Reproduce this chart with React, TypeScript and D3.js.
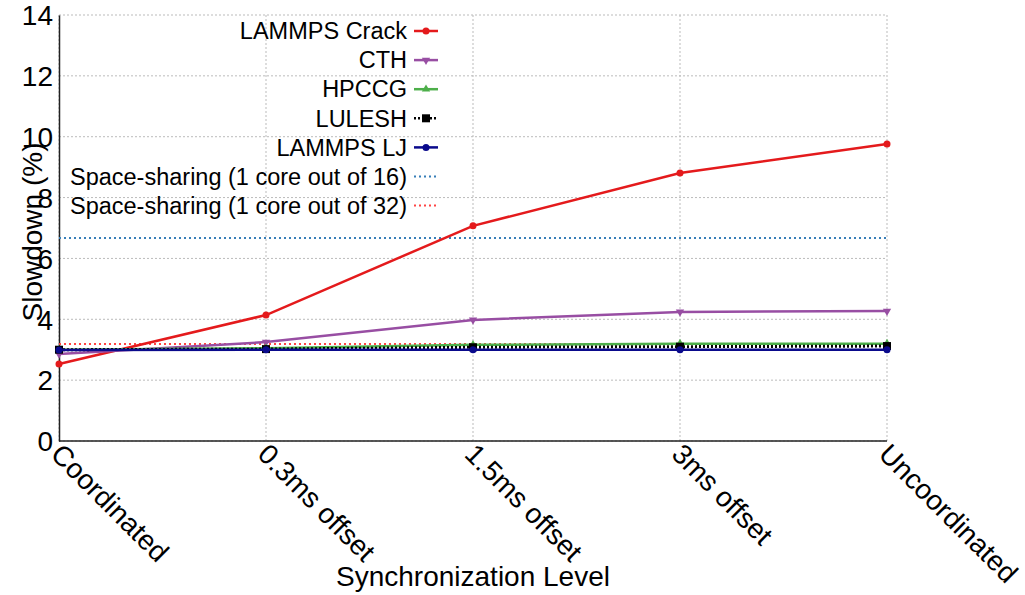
import React, { useEffect, useRef } from "react";
import * as d3 from "d3";

const levels = ["Coordinated", "0.3ms offset", "1.5ms offset", "3ms offset", "Uncoordinated"];
const yTicks = [0, 2, 4, 6, 8, 10, 12, 14];

const lammpsCrack = [2.53, 4.14, 7.07, 8.81, 9.76];
const cth = [2.86, 3.25, 3.98, 4.24, 4.27];
const hpccg = [3.0, 3.05, 3.16, 3.2, 3.2];
const lulesh = [3.0, 3.02, 3.08, 3.1, 3.12];
const lammpsLJ = [2.99, 3.0, 3.0, 3.0, 3.0];

const spaceShare16 = 6.67;
const spaceShare32 = 3.19;

type Series = { name: string; values: number[]; color: string; marker: string; dash?: string };

const series: Series[] = [
  { name: "LAMMPS Crack", values: lammpsCrack, color: "#e41a1c", marker: "circle" },
  { name: "CTH", values: cth, color: "#984ea3", marker: "down" },
  { name: "HPCCG", values: hpccg, color: "#4daf4a", marker: "up" },
  { name: "LULESH", values: lulesh, color: "#000000", marker: "square", dash: "2,2" },
  { name: "LAMMPS LJ", values: lammpsLJ, color: "#0a0a8c", marker: "circle" },
];

const hlines = [
  { name: "Space-sharing (1 core out of 16)", value: spaceShare16, color: "#377eb8" },
  { name: "Space-sharing (1 core out of 32)", value: spaceShare32, color: "#ff4444" },
];

const W = 1025;
const H = 595;

export default function App() {
  const svgRef = useRef<SVGSVGElement>(null);

  useEffect(() => {
    if (!svgRef.current) return;
    const svg = d3.select(svgRef.current);
    svg.selectAll("*").remove();

    const left = 59, right = 887, top = 15, bottom = 441;
    const font = "'Liberation Sans', Arial, sans-serif";

    const x = d3.scalePoint<string>().domain(levels).range([left, right]);
    const y = d3.scaleLinear().domain([0, 14]).range([bottom, top]);

    // grid
    const grid = svg.append("g");
    yTicks.forEach(t => {
      grid.append("line")
        .attr("x1", left).attr("x2", right)
        .attr("y1", y(t)).attr("y2", y(t))
        .attr("stroke", "#bbbbbb").attr("stroke-width", 1)
        .attr("stroke-dasharray", "2,2");
    });
    levels.forEach(l => {
      grid.append("line")
        .attr("x1", x(l)!).attr("x2", x(l)!)
        .attr("y1", top).attr("y2", bottom)
        .attr("stroke", "#bbbbbb").attr("stroke-width", 1)
        .attr("stroke-dasharray", "2,2");
    });

    // axes
    const yAxis = svg.append("g")
      .attr("transform", `translate(${left},0)`)
      .call(d3.axisLeft(y).tickValues(yTicks).tickSize(0).tickPadding(6));
    yAxis.select(".domain").attr("stroke", "#222").attr("stroke-width", 1.5);
    yAxis.selectAll("text")
      .attr("font-size", 28).attr("font-family", font).attr("fill", "#000")
      .attr("dy", "0.35em");

    svg.append("line")
      .attr("x1", left).attr("x2", right)
      .attr("y1", bottom).attr("y2", bottom)
      .attr("stroke", "#222").attr("stroke-width", 1.5);

    levels.forEach(l => {
      svg.append("text")
        .attr("transform", `translate(${x(l)! + 4},${bottom + 1}) rotate(45)`)
        .attr("font-size", 28).attr("font-family", font)
        .attr("dy", "0.7em")
        .text(l);
    });

    // axis titles
    svg.append("text")
      .attr("transform", `translate(42,232) rotate(-90)`)
      .attr("text-anchor", "middle")
      .attr("font-size", 28).attr("font-family", font)
      .text("Slowdown (%)");
    svg.append("text")
      .attr("x", 473).attr("y", 586)
      .attr("text-anchor", "middle")
      .attr("font-size", 28).attr("font-family", font)
      .text("Synchronization Level");

    // horizontal reference lines
    hlines.forEach(h => {
      svg.append("line")
        .attr("x1", left).attr("x2", right)
        .attr("y1", y(h.value)).attr("y2", y(h.value))
        .attr("stroke", h.color).attr("stroke-width", 2)
        .attr("stroke-dasharray", "2,3");
    });

    const line = d3.line<number>()
      .x((_, i) => x(levels[i])!)
      .y(d => y(d));

    const drawMarker = (g: d3.Selection<SVGGElement, unknown, null, undefined>, cx: number, cy: number, s: Series) => {
      if (s.marker === "circle") {
        g.append("circle").attr("cx", cx).attr("cy", cy).attr("r", 3.5).attr("fill", s.color);
      } else if (s.marker === "square") {
        g.append("rect").attr("x", cx - 4).attr("y", cy - 4).attr("width", 8).attr("height", 8).attr("fill", s.color);
      } else {
        const sym = d3.symbol().type(d3.symbolTriangle).size(30);
        g.append("path").attr("d", sym()!)
          .attr("transform", `translate(${cx},${cy}) rotate(${s.marker === "down" ? 180 : 0})`)
          .attr("fill", s.color);
      }
    };

    const plot = svg.append("g");
    series.forEach(s => {
      plot.append("path")
        .datum(s.values)
        .attr("fill", "none")
        .attr("stroke", s.color)
        .attr("stroke-width", s.dash ? 3 : 2.5)
        .attr("stroke-dasharray", s.dash ?? null)
        .attr("d", line);
      s.values.forEach((v, i) => drawMarker(plot, x(levels[i])!, y(v), s));
    });

    // legend
    const legend = svg.append("g");
    const lx = 407;
    const rows = [
      ...series.map(s => ({ name: s.name, color: s.color, dash: s.dash, s })),
      ...hlines.map(h => ({ name: h.name, color: h.color, dash: "2,3", s: null as Series | null })),
    ];
    rows.forEach((r, i) => {
      const ry = 31 + i * 29.1;
      legend.append("text")
        .attr("x", lx).attr("y", ry)
        .attr("dy", "0.35em")
        .attr("text-anchor", "end")
        .attr("font-size", 23.5).attr("font-family", font)
        .text(r.name);
      legend.append("line")
        .attr("x1", lx + 7).attr("x2", lx + 31)
        .attr("y1", ry).attr("y2", ry)
        .attr("stroke", r.color).attr("stroke-width", r.s ? 2.5 : 2)
        .attr("stroke-dasharray", r.dash ?? null);
      if (r.s) drawMarker(legend, lx + 19, ry, r.s);
    });
  }, []);

  return (
    <svg ref={svgRef} width={W} height={H} style={{ position: "absolute", left: 0, top: 0, background: "#fff" }} />
  );
}
